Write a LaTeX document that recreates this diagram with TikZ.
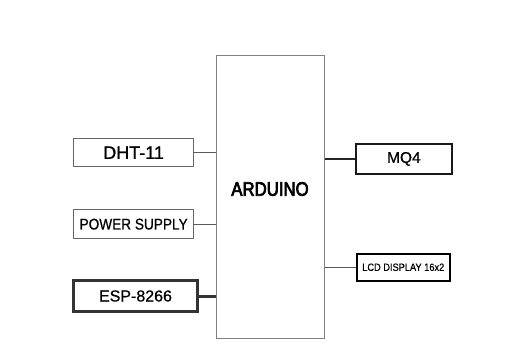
\documentclass[tikz,border=0pt]{standalone}
\usepackage{fontspec}
\setmainfont{Liberation Sans}
\newfontfamily\semib[FakeBold=1.2]{Liberation Sans}
\newfontfamily\narrowsemib[FakeBold=3.5,FakeStretch=0.86]{Liberation Sans}
\newfontfamily\narrow[FakeStretch=0.88,FakeBold=0.6]{Liberation Sans}
\newfontfamily\plainb[FakeBold=0.6]{Liberation Sans}
\begin{document}
\begin{tikzpicture}[x=1pt,y=-1pt,
  blk/.style={draw, inner sep=0pt, anchor=north west},
  wire/.style={line width=1pt, draw=black!65}]
\useasboundingbox (0,0) rectangle (509,354);
\fill[white] (0,0) rectangle (509,354);
% Arduino
\node[blk, draw=black!50, line width=1.2pt, minimum width=108pt, minimum height=283pt] (ard) at (216,55) {};
\node[font=\fontsize{19.5}{22}\selectfont\narrowsemib] (ardt) at (270,189) {ARDUINO};
% left blocks
\node[blk, draw=black!60, line width=1.3pt, minimum width=120pt, minimum height=28pt,
      font=\fontsize{18}{20}\selectfont\semib] (dht) at (73,138) {DHT-11};
\node[blk, draw=black!60, line width=1.3pt, minimum width=120pt, minimum height=29pt,
      font=\fontsize{15.5}{17}\selectfont\narrow] (pwr) at (73,209) {POWER SUPPLY};
\node[blk, draw=black!80, line width=3pt, minimum width=124pt, minimum height=31pt,
      font=\fontsize{16}{18}\selectfont\plainb] (esp) at (72,279) {ESP-8266};
% right blocks
\node[blk, draw=black!90, line width=1.8pt, minimum width=96pt, minimum height=30pt,
      font=\fontsize{15.5}{18}\selectfont\plainb] (mq) at (355,143) {MQ4};
\node[blk, draw=black, line width=1.5pt, minimum width=93pt, minimum height=27pt,
      font=\fontsize{10.5}{11}\selectfont\narrow] (lcd) at (356,253) {LCD DISPLAY 16x2};
% connectors
\draw[wire] (dht.east) -- (dht.east -| ard.west);
\draw[wire] (pwr.east) -- (pwr.east -| ard.west);
\draw[wire, line width=3pt, draw=black!80] (esp.east) -- (esp.east -| ard.west);
\draw[wire, draw=black!85, line width=1.4pt] (mq.west) -- (mq.west -| ard.east);
\draw[wire] (lcd.west) -- (lcd.west -| ard.east);
\end{tikzpicture}
\end{document}
